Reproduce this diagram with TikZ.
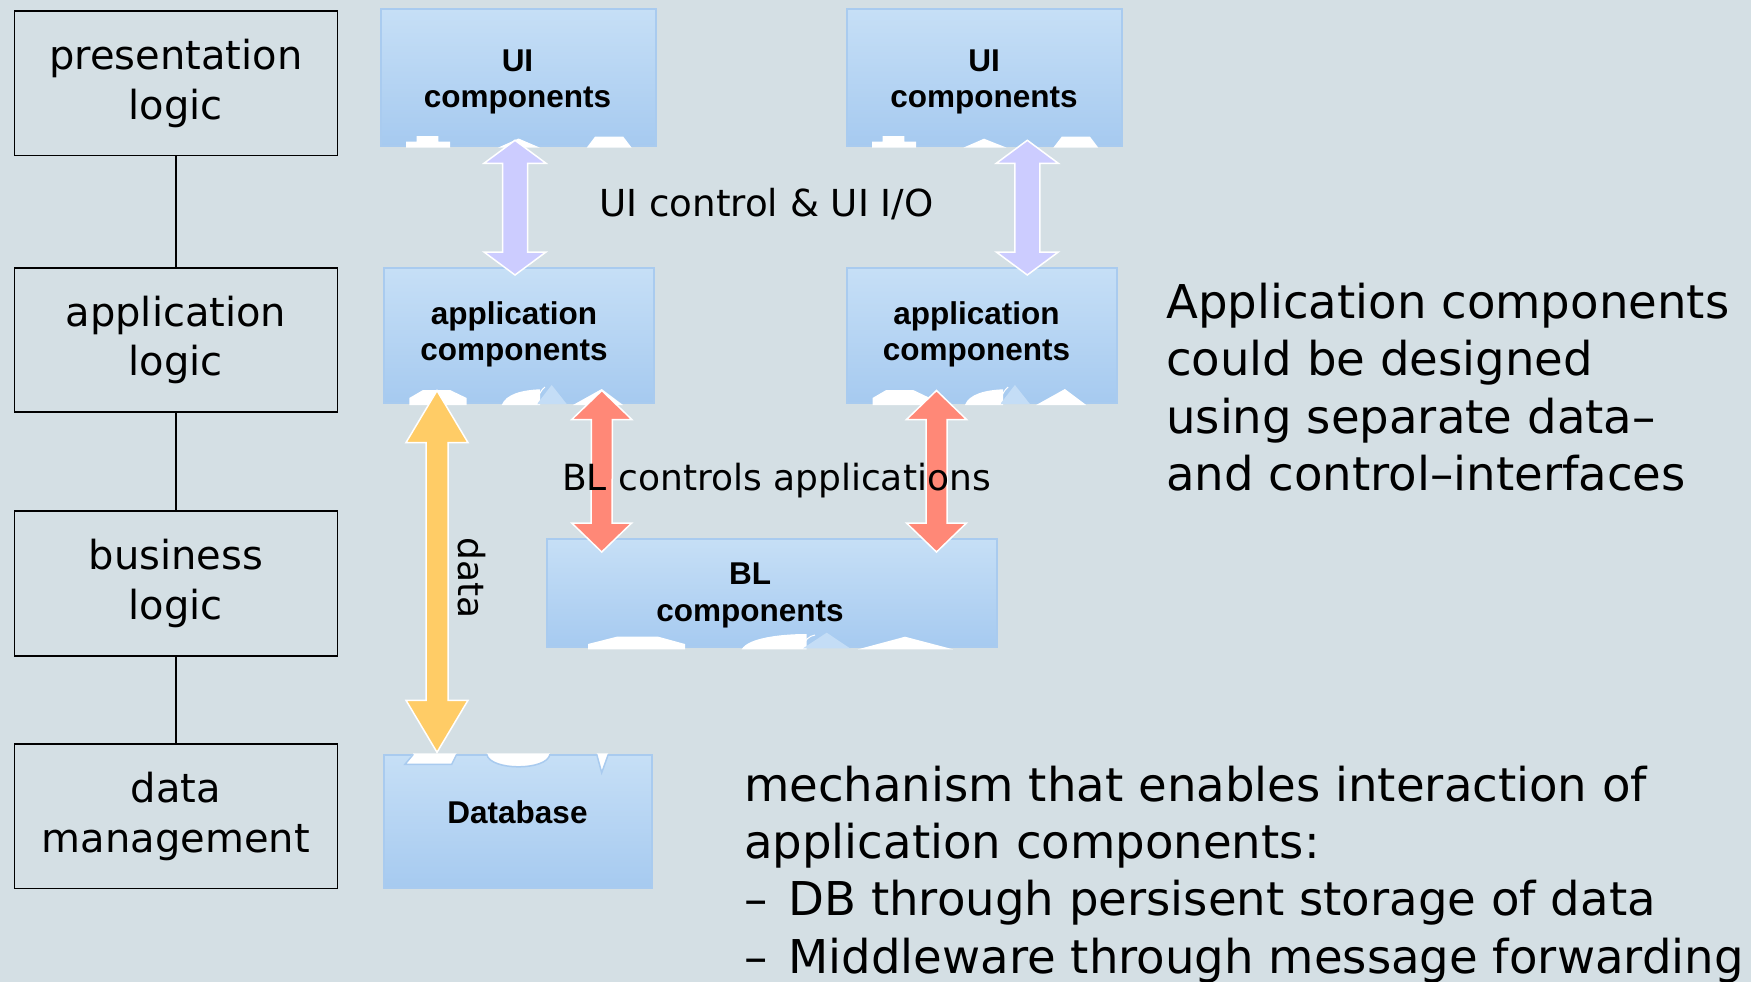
\documentclass[tikz,border=0pt]{standalone}
\usepackage{fontspec}
\setmainfont{DejaVu Sans}
\newfontfamily\boxfont{Liberation Sans}
\usetikzlibrary{calc}

\definecolor{bg}{HTML}{D4DFE4}
\definecolor{boxtop}{HTML}{C6DFF6}
\definecolor{boxbot}{HTML}{A6CAF0}
\definecolor{boxedge}{HTML}{A9CBEF}
\definecolor{piece}{HTML}{C4DDF6}
\definecolor{lav}{HTML}{CCCCFF}
\definecolor{gold}{HTML}{FFCC66}
\definecolor{salmon}{HTML}{FF8877}

\tikzset{
  layerbox/.style={draw=black, line width=1.8pt, minimum width=323pt,
    minimum height=144.5pt, inner sep=0pt, align=center,
    font=\fontsize{40}{49.7}\selectfont},
  comp/.style={draw=boxedge, line width=2pt, top color=boxtop,
    bottom color=boxbot, inner sep=0pt},
  comptext/.style={align=center, inner sep=0pt,
    font=\boxfont\bfseries\fontsize{31.5}{36.6}\selectfont},
  notch/.style={fill=white},
  midlabel/.style={inner sep=0pt, font=\fontsize{36}{43}\selectfont},
  bodytext/.style={inner sep=0pt, anchor=base west,
    font=\fontsize{46.6}{57.5}\selectfont},
  link/.style={line width=1.8pt},
  blockarrow/.style={line width=1.5pt, draw=white, line join=miter},
}

% vertical double block arrow: fill colour, upper tip, lower tip,
% half shaft width, half head width, head length
\newcommand\dblarrow[6]{%
  \filldraw[blockarrow, fill=#1] (#2) -- ($(#2)+(#5,#6)$) -- ($(#2)+(#4,#6)$)
    -- ($(#3)+(#4,-#6)$) -- ($(#3)+(#5,-#6)$) -- (#3)
    -- ($(#3)+(-#5,-#6)$) -- ($(#3)+(-#4,-#6)$)
    -- ($(#2)+(-#4,#6)$) -- ($(#2)+(-#5,#6)$) -- cycle;}
\newcommand\itemdash{–\hspace{21pt}}

\begin{document}
\begin{tikzpicture}[x=1pt, y=-1pt]
\useasboundingbox (0,0) rectangle (1751,982);
\fill[bg] (0,0) rectangle (1751,982);

% layer stack on the left
\node[layerbox] (pres) at (175.9,83.3)  {presentation\\logic};
\node[layerbox] (appl) at (175.9,340)   {application\\logic};
\node[layerbox] (busl) at (175.9,583.5) {business\\logic};
\node[layerbox] (datm) at (175.9,816.3) {data\\management};
\draw[link] (pres) -- (appl);
\draw[link] (appl) -- (busl);
\draw[link] (busl) -- (datm);

% component boxes
\node[comp, minimum width=275pt, minimum height=136.4pt] (ui1) at (518.5,77.5) {};
\node[comp, minimum width=275pt, minimum height=136.4pt] (ui2) at (984.5,77.5) {};
\node[comp, minimum width=269.7pt, minimum height=134.7pt] (app1) at (519.2,335.7) {};
\node[comp, minimum width=269.4pt, minimum height=134.7pt] (app2) at (982.1,335.7) {};
\node[comp, minimum width=449.7pt, minimum height=108pt] (bl) at (771.9,593.3) {};
\node[comp, minimum width=268.6pt, minimum height=133pt] (db) at (518,821.8) {};

% puzzle-piece cut-outs, UI boxes
\fill[notch] (406,147.7) -- (406,141.7) -- (416.7,141.7) -- (416.7,136) -- (438.3,136)
  -- (438.3,141.7) -- (450,141.7) -- (450,147.7) -- cycle;
\fill[notch] (498,147.7) -- (518.5,138.5) -- (540,147.7) -- cycle;
\fill[notch] (586.7,147.7) -- (595,136.7) -- (623.3,136.7) -- (631.7,147.7) -- cycle;
\fill[notch] (872,147.7) -- (872,141.7) -- (882.7,141.7) -- (882.7,136) -- (904.3,136)
  -- (904.3,141.7) -- (916,141.7) -- (916,147.7) -- cycle;
\fill[notch] (963.3,147.7) -- (984,138.7) -- (1006.7,147.7) -- cycle;
\fill[notch] (1053.3,147.7) -- (1061.7,136.7) -- (1090,136.7) -- (1098.3,147.7) -- cycle;

% cut-outs, application boxes
\foreach \dx in {0,463.2}{
  \begin{scope}[xshift=\dx]
    \fill[notch] (409.3,405) -- (409.3,398) -- (423,390) -- (450,390) -- (466.7,398)
      -- (466.7,405) -- cycle;
    \fill[notch] (501.7,405) .. controls (506,394) and (522,390) .. (540,389.3)
      -- (540,405) -- cycle;
    \fill[piece] (537,404) -- (551.7,385) -- (566.7,404) -- cycle;
    \draw[white, line width=1pt] (537,404) .. controls (538,395) and (541,390) .. (545,387);
    \fill[notch] (573,405) -- (601.7,389) -- (623,405) -- cycle;
  \end{scope}}

% cut-outs, BL box
\fill[notch] (588,649.3) -- (588,644) -- (616.7,636.7) -- (658.3,636.7) -- (685,644)
  -- (685,649.3) -- cycle;
\fill[notch] (741.7,649.3) .. controls (748,638) and (780,634) .. (806.7,634)
  -- (806.7,649.3) -- cycle;
\fill[piece] (803,648.3) -- (826.7,632.7) -- (850,648.3) -- cycle;
\draw[white, line width=1pt] (803,648.3) .. controls (804,640) and (809,636) .. (815,635);
\fill[notch] (858,649.3) -- (905,636.7) -- (953,649.3) -- cycle;

% cut-outs, database
\fill[notch] (413.3,753.3) -- (456.7,753.3) -- (451.7,764.3) -- (405,764.3) -- cycle;
\draw[boxedge, line width=1.5pt] (413.3,754.3) -- (405,764.3) -- (451.7,764.3) -- (456.7,754.3);
\fill[notch] (486.7,753.3) .. controls (490,771) and (547,771) .. (550,753.3) -- cycle;
\draw[boxedge, line width=1.5pt] (486.7,754.3) .. controls (490,771) and (547,771) .. (550,754.3);
\fill[notch] (596.7,753.3) -- (601.7,772.7) -- (608.3,753.3) -- cycle;
\draw[boxedge, line width=1.5pt] (596.7,754.3) -- (601.7,772.7) -- (608.3,754.3);

% component labels
\node[comptext] (ui1t) at ($(ui1)+(-1,4.5)$) {UI\\components};
\node[comptext] (ui2t) at ($(ui2)+(-0.5,4.5)$) {UI\\components};
\node[comptext] (app1t) at ($(app1)+(-5.2,-1.4)$) {application\\components};
\node[comptext] (app2t) at ($(app2)+(-5.6,-1.4)$) {application\\components};
\node[comptext] (blt) at ($(bl)+(-21.9,2)$) {BL\\components};
\node[comptext, anchor=base] (dbt) at (517.5,823.3) {Database};

% arrow end points
\coordinate (l1a) at ($(ui1.south)+(-3.5,-6.4)$);
\coordinate (l1b) at ($(app1.north)+(-4.2,7.65)$);
\coordinate (l2a) at ($(ui2.south)+(42.8,-6.4)$);
\coordinate (l2b) at ($(app2.north)+(45.2,7.65)$);
\coordinate (ya)  at ($(app1.south)+(-82.2,-13.45)$);
\coordinate (yb)  at ($(db.north)+(-81,-2)$);
\coordinate (r1a) at ($(app1.south)+(82.6,-13.55)$);
\coordinate (r1b) at ($(bl.north)+(-170.2,13.7)$);
\coordinate (r2a) at ($(app2.south)+(-45.6,-13.55)$);
\coordinate (r2b) at ($(bl.north)+(164.6,13.7)$);

% connectors
\dblarrow{lav}{l1a}{l1b}{12.5}{31}{23}
\dblarrow{lav}{l2a}{l2b}{12.5}{31}{23}
\dblarrow{gold}{ya}{yb}{11}{31}{52}
\dblarrow{salmon}{r1a}{r1b}{10.5}{30}{29}
\dblarrow{salmon}{r2a}{r2b}{10.5}{30}{29}

% connector captions
\node[midlabel, anchor=base west, font=\fontsize{37.2}{44}\selectfont] (uic)
  at (599,216.7) {UI control \& UI I/O};
\node[midlabel, anchor=base west] (blc) at (562,490.7) {BL controls applications};
\node[midlabel, rotate=-90, anchor=base west] (dat) at (458.3,537) {data};

% notes
\node[bodytext] (n1) at (1166,318)   {Application components};
\node[bodytext] (n2) at (1166,375.5) {could be designed};
\node[bodytext] (n3) at (1166,433)   {using separate data–};
\node[bodytext] (n4) at (1166,490.5) {and control–interfaces};

\node[bodytext] (m1) at (744,801.7) {mechanism that enables interaction of};
\node[bodytext] (m2) at (744,858.3) {application components:};
\node[bodytext] (m3) at (744,915.7) {\itemdash DB through persisent storage of data};
\node[bodytext] (m4) at (744,973.3) {\itemdash Middleware through message forwarding};
\end{tikzpicture}
\end{document}
